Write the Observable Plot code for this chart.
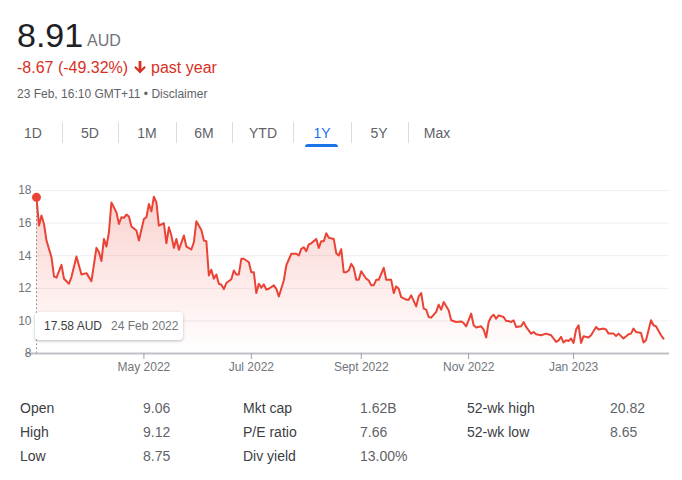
<!DOCTYPE html>
<html>
<head>
<meta charset="utf-8">
<script src="https://cdn.jsdelivr.net/npm/d3@7"></script>
<script src="https://cdn.jsdelivr.net/npm/@observablehq/plot@0.6"></script>
<style>
  html, body { margin: 0; padding: 0; background: #fff; }
  #page { position: relative; width: 682px; height: 480px; overflow: hidden; font-family: Arial, "Liberation Sans", sans-serif; }
  .abs { position: absolute; white-space: nowrap; line-height: 1; }
  .tab { position: absolute; top: 126px; font-size: 14px; line-height: 1; color: #5f6368; transform: translateX(-50%); white-space: nowrap; }
  .sep { position: absolute; top: 122px; width: 1px; height: 21px; background: #dadce0; }
  .stat { position: absolute; font-size: 14px; line-height: 1; white-space: nowrap; }
  #chart { position: absolute; left: 0; top: 170px; }
  #tip { position: absolute; left: 35px; top: 312px; width: 148px; height: 28px; background: #fff; border-radius: 4px;
         box-shadow: 0 1px 3px rgba(60,64,67,0.35); font-size: 12px; line-height: 28px; white-space: nowrap; }
</style>
</head>
<body>
<div id="page">
  <div class="abs" id="price" style="left:17px; top:18px; font-size:34px; color:#202124;"></div>
  <div class="abs" id="cur" style="left:87px; top:33px; font-size:16px; color:#70757a;"></div>
  <div class="abs" id="chg" style="left:17px; top:60px; font-size:16px; color:#d93025;"></div>
  <div class="abs" id="stamp" style="left:17px; top:88px; font-size:12px; color:#5f6368;"></div>
  <div id="tabs"></div>
  <div id="chart"></div>
  <div id="tip"></div>
  <div id="stats"></div>
</div>
<script>
// ---- header ----
const lastPrice = "8.91";
const currency = "AUD";
const changeText = "-8.67 (-49.32%)";
const periodText = "past year";
const stampText = "23 Feb, 16:10 GMT+11 • Disclaimer";
const tabNames = ["1D", "5D", "1M", "6M", "YTD", "1Y", "5Y", "Max"];
const activeTab = "1Y";

// ---- chart data: trading-day index (0 = 24 Feb 2022) and closing price ----
const startDateLabel = "24 Feb 2022";
const days = [0,1,2,3,4,6,7,8,10,11,13,14,16,17,18,20,22,24,25,26,27,28,29,30,32,33,34,35,36,37,38,40,41,43,44,45,46,47,48,49,
  51,52,53,54,55,56,57,59,60,62,63,64,66,67,68,69,70,71,72,73,74,75,76,78,79,80,81,82,83,85,86,87,88,89,90,91,92,93,95,96,97,99,100,
  102,104,105,106,107,108,109,110,112,113,114,115,116,117,119,120,121,122,123,124,125,126,127,128,129,130,132,133,134,135,136,137,139,140,
  142,143,144,145,146,148,149,150,152,153,154,155,156,157,158,160,161,162,163,165,166,168,170,171,172,174,175,176,178,179,180,181,182,183,
  184,185,187,188,189,190,191,192,194,195,196,198,199,200,202,204,206,208,209,210,211,212,213,214,215,216,217,218,219,221,222,224,225,227,
  228,229,231,232,233,235,237,238,239,240,242,243,244,246,247,248,250,251];
const prices = [17.58,15.85,16.46,15.95,14.93,13.91,12.73,12.65,13.44,12.59,12.28,12.69,13.95,13.40,12.85,12.93,12.44,14.48,14.22,13.67,15.03,14.56,15.44,17.27,16.66,15.95,16.36,16.32,16.52,16.40,15.79,15.54,14.93,16.25,16.36,17.17,16.72,17.62,17.27,15.85,
  15.99,14.76,15.74,15.24,14.48,15.03,14.36,15.24,14.56,14.38,14.83,16.11,15.58,14.93,14.89,12.79,13.14,12.59,12.85,12.28,12.22,11.95,12.32,12.56,13.09,12.85,12.85,13.81,13.81,13.60,12.99,12.99,11.71,12.28,12.04,12.24,11.93,11.97,12.18,11.97,11.50,12.48,13.40,
  14.12,14.12,14.01,14.42,14.52,14.28,14.69,14.76,15.03,14.48,14.89,14.89,15.38,15.10,15.03,14.15,14.01,14.40,12.99,12.99,13.09,13.50,13.26,12.52,12.52,13.05,12.59,12.48,12.18,12.18,12.52,12.52,13.26,12.52,
  12.52,11.71,12.12,11.97,11.46,11.30,11.30,11.57,10.89,11.50,11.71,10.75,10.69,10.24,10.20,10.55,11.00,10.69,11.16,10.65,10.04,9.93,9.97,9.87,9.67,10.45,9.73,9.59,9.67,9.47,8.98,9.93,10.24,10.38,
  10.14,10.34,10.24,9.99,9.99,9.93,10.04,9.63,9.67,9.93,9.63,9.22,9.32,9.18,9.12,9.22,9.12,8.71,8.81,9.02,8.67,8.81,8.77,8.92,8.65,9.47,9.73,8.65,9.06,8.98,9.12,9.63,9.47,9.53,
  9.47,9.22,9.22,9.08,9.22,8.92,9.18,9.22,9.53,9.32,9.26,8.67,8.81,10.04,9.73,9.67,9.12,8.91];
const tickDays = [43, 86, 130, 173, 215];
const tickLabels = ["May 2022", "Jul 2022", "Sept 2022", "Nov 2022", "Jan 2023"];
const yTicks = [8, 10, 12, 14, 16, 18];

// ---- key stats ----
const statLabels1 = ["Open", "High", "Low"];
const statValues1 = ["9.06", "9.12", "8.75"];
const statLabels2 = ["Mkt cap", "P/E ratio", "Div yield"];
const statValues2 = ["1.62B", "7.66", "13.00%"];
const statLabels3 = ["52-wk high", "52-wk low"];
const statValues3 = ["20.82", "8.65"];

// header
document.getElementById("price").textContent = lastPrice;
document.getElementById("cur").textContent = currency;
document.getElementById("chg").innerHTML = changeText +
  ' <svg width="12" height="13" viewBox="0 0 12 13" style="vertical-align:-1px;margin:0 1px"><path d="M4.6 0h2.8v8l3-3 1.4 1.6L6 12.4 0.2 6.6 1.6 5l3 3z" fill="#d93025"/></svg> ' + periodText;
document.getElementById("stamp").textContent = stampText;

const tabCenters = [33, 90, 147, 204, 263, 322, 379, 437];
const sepXs = [62, 118, 176, 232, 293, 351, 408];
const tabsEl = document.getElementById("tabs");
tabNames.forEach((n, i) => {
  const d = document.createElement("div");
  d.className = "tab";
  d.style.left = tabCenters[i] + "px";
  d.textContent = n;
  if (n === activeTab) d.style.color = "#1a73e8";
  tabsEl.appendChild(d);
});
sepXs.forEach(x => {
  const s = document.createElement("div");
  s.className = "sep"; s.style.left = x + "px";
  tabsEl.appendChild(s);
});
const ul = document.createElement("div");
ul.style.cssText = "position:absolute;left:305px;top:144px;width:33px;height:3px;background:#1a73e8;border-radius:3px 3px 0 0;";
tabsEl.appendChild(ul);

// chart
const data = days.map((t, i) => ({t, p: prices[i]}));
const red = "#ea4335";
const chart = Plot.plot({
  width: 682,
  height: 215,
  marginTop: 20,
  marginBottom: 32,
  marginLeft: 25,
  marginRight: 13,
  x: {type: "linear", domain: [-4.4, 253.4]},
  y: {domain: [8, 18]},
  style: {fontFamily: "Arial, 'Liberation Sans', sans-serif", fontSize: "12px", color: "#70757a", background: "white", overflow: "visible"},
  marks: [
    Plot.ruleY(yTicks.filter(v => v > 8), {x1: -1.2, x2: 253.4, stroke: "#eeeff1", strokeWidth: 1}),
    Plot.areaY(data, {x: "t", y1: 8, y2: "p", fill: "url(#priceGrad)"}),
    Plot.ruleX([data[0]], {x: "t", y1: 8, y2: "p", stroke: "#80868b", strokeWidth: 1, strokeDasharray: "1.5,2.5"}),
    Plot.ruleY([8], {x1: -4.4, x2: 253.4, stroke: "#bdc1c6", strokeWidth: 2}),
    Plot.line(data, {x: "t", y: "p", stroke: red, strokeWidth: 2, strokeLinejoin: "round"}),
    Plot.dot([data[0]], {x: "t", y: "p", r: 4.5, fill: red, stroke: "none"}),
    Plot.axisX({ticks: tickDays, tickFormat: d => tickLabels[tickDays.indexOf(d)], tickSize: 6, tickPadding: 3,
      stroke: "#9aa0a6", fill: "#70757a", label: null}),
    Plot.axisY({ticks: yTicks, tickSize: 0, tickPadding: 0, dx: 6, fill: "#70757a", label: null})
  ]
});
const defs = d3.select(chart).insert("defs", ":first-child");
const grad = defs.append("linearGradient").attr("id", "priceGrad")
  .attr("x1", 0).attr("y1", 0).attr("x2", 0).attr("y2", 1);
grad.append("stop").attr("offset", "0%").attr("stop-color", red).attr("stop-opacity", 0.24);
grad.append("stop").attr("offset", "100%").attr("stop-color", red).attr("stop-opacity", 0.0);
document.getElementById("chart").appendChild(chart);

// tooltip
document.getElementById("tip").innerHTML =
  '<span style="margin-left:9px;color:#3c4043">' + prices[0].toFixed(2) + " " + currency + '</span>' +
  '<span style="margin-left:9px;color:#70757a">' + startDateLabel + '</span>';

// stats
const statsEl = document.getElementById("stats");
const rowTops = [401, 425, 449];
function addCol(labels, values, xl, xv) {
  labels.forEach((l, i) => {
    const a = document.createElement("div");
    a.className = "stat"; a.style.left = xl + "px"; a.style.top = rowTops[i] + "px"; a.style.color = "#3c4043";
    a.textContent = l; statsEl.appendChild(a);
    const b = document.createElement("div");
    b.className = "stat"; b.style.left = xv + "px"; b.style.top = rowTops[i] + "px"; b.style.color = "#5f6368";
    b.textContent = values[i]; statsEl.appendChild(b);
  });
}
addCol(statLabels1, statValues1, 20, 143);
addCol(statLabels2, statValues2, 243, 360);
addCol(statLabels3, statValues3, 467, 610);
</script>
</body>
</html>
